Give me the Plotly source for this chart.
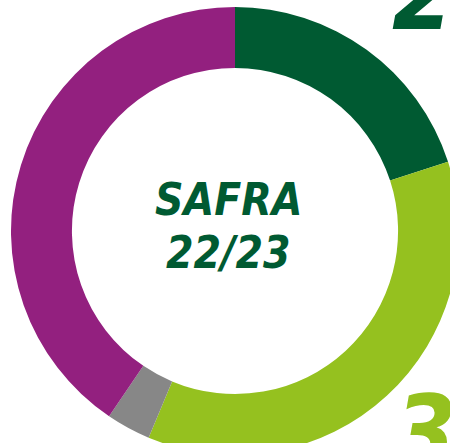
import plotly.graph_objects as go

categories = ["Segmento A", "Segmento B", "Outros", "Segmento C"]
values = [20.0, 36.3, 3.2, 40.5]
colors = ["#005A32", "#95C11F", "#878787", "#93207F"]
center_title = "SAFRA"
center_sub = "22/23"
label_top = "20%"
label_bottom = "36%"

W, H = 470, 470
cx, cy, R = 235, 231, 224

fig = go.Figure(go.Pie(
    labels=categories, values=values, hole=0.728,
    sort=False, direction="clockwise", rotation=0,
    marker=dict(colors=colors, line=dict(width=0)),
    textinfo="none", hoverinfo="label+percent", showlegend=False,
    domain=dict(x=[(cx - R) / W, (cx + R) / W], y=[1 - (cy + R) / H, 1 - (cy - R) / H]),
))

fam = "DejaVu Sans Condensed, Liberation Sans Narrow, sans-serif"
fig.add_annotation(x=228 / W, y=1 - 200 / H, xref="paper", yref="paper",
                   text=f"<b><i>{center_title}</i></b>", showarrow=False,
                   font=dict(size=44, family=fam, color="#005A32"), xanchor="center", yanchor="middle")
fig.add_annotation(x=228 / W, y=1 - 252 / H, xref="paper", yref="paper",
                   text=f"<b><i>{center_sub}</i></b>", showarrow=False,
                   font=dict(size=44, family=fam, color="#005A32"), xanchor="center", yanchor="middle")
fig.add_annotation(x=390 / W, y=1 - 55 / H, xref="paper", yref="paper",
                   text=f"<b><i>{label_top}</i></b>", showarrow=False,
                   font=dict(size=100, family=fam, color="#005A32"), xanchor="left", yanchor="bottom")
fig.add_annotation(x=392 / W, y=1 - 372 / H, xref="paper", yref="paper",
                   text=f"<b><i>{label_bottom}</i></b>", showarrow=False,
                   font=dict(size=100, family=fam, color="#95C11F"),
                   xanchor="left", yanchor="top")

fig.update_layout(width=W, height=H, margin=dict(l=0, r=0, t=0, b=0),
                  paper_bgcolor="white", plot_bgcolor="white")

fig.write_html("out.html", post_script="document.documentElement.style.overflow='hidden';document.body.style.overflow='hidden';document.body.style.margin='0';")
